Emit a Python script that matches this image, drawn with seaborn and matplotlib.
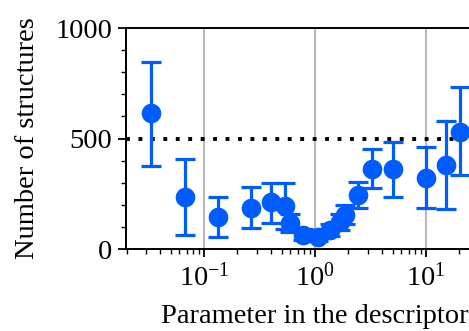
import matplotlib
matplotlib.use("Agg")
import matplotlib.pyplot as plt
import seaborn as sns
import numpy as np
import pandas as pd
from matplotlib.ticker import MultipleLocator, LogLocator, NullFormatter

params = [0.0333, 0.0667, 0.133, 0.267, 0.40, 0.533, 0.60, 0.78, 1.06, 1.37, 1.68, 1.86, 2.44, 3.24, 5.07, 10.1, 15.0, 20.2]
counts = [614, 234, 143, 186, 211, 196, 118, 63, 54, 86, 122, 154, 244, 362, 361, 323, 380, 531]
lower = [376, 63, 53, 94, 119, 89, 75, 40, 36, 58, 88, 112, 184, 275, 237, 186, 181, 335]
upper = [848, 406, 237, 279, 300, 297, 160, 90, 75, 115, 160, 200, 305, 451, 483, 460, 579, 732]

df = pd.DataFrame({"param": params, "count": counts})

sns.set_style("ticks")
plt.rcParams["font.family"] = ["Liberation Serif", "DejaVu Serif"]
plt.rcParams["mathtext.fontset"] = "stix"
plt.rcParams["text.color"] = "black"
plt.rcParams["axes.labelcolor"] = "black"
plt.rcParams["xtick.color"] = "black"
plt.rcParams["ytick.color"] = "black"
plt.rcParams["axes.edgecolor"] = "black"

color = "#005cff"
fig = plt.figure(figsize=(4.69, 3.31), dpi=100)
ax = fig.add_axes([0.2687, 0.2477, 0.805, 0.6677])

yerr = [np.array(counts) - np.array(lower), np.array(upper) - np.array(counts)]
ax.errorbar(params, counts, yerr=yerr, fmt="none", ecolor=color,
            elinewidth=2.3, capsize=7, capthick=2.3, zorder=3)
sns.scatterplot(data=df, x="param", y="count", ax=ax, color=color,
                s=200, edgecolor=color, linewidth=0, zorder=4, legend=False)

ax.axhline(500, color="black", linestyle=(0, (1, 2.2)), lw=2.8, zorder=2)
ax.set_xscale("log")
ax.set_xlim(0.0198, 50)
ax.set_ylim(0, 1000)
ax.set_yticks([0, 500, 1000])
ax.yaxis.set_minor_locator(MultipleLocator(100))
ax.xaxis.set_major_locator(LogLocator(base=10, numticks=10))
ax.xaxis.set_minor_locator(LogLocator(base=10, subs=np.arange(2, 10), numticks=20))
ax.xaxis.set_minor_formatter(NullFormatter())
ax.grid(True, axis="x", which="major", color="#b8b8b8", lw=1.5, zorder=0)

for s in ax.spines.values():
    s.set_linewidth(1.4)
    s.set_color("black")
ax.tick_params(which="major", length=6, width=1.3, labelsize=20.5, direction="out", pad=4)
ax.tick_params(which="minor", length=3.5, width=1.0, direction="out")
ax.set_xlabel("Parameter in the descriptor", fontsize=20.5, labelpad=9)
ax.set_ylabel("Number of structures", fontsize=20.5, labelpad=11)

fig.savefig("out.png", dpi=100)
